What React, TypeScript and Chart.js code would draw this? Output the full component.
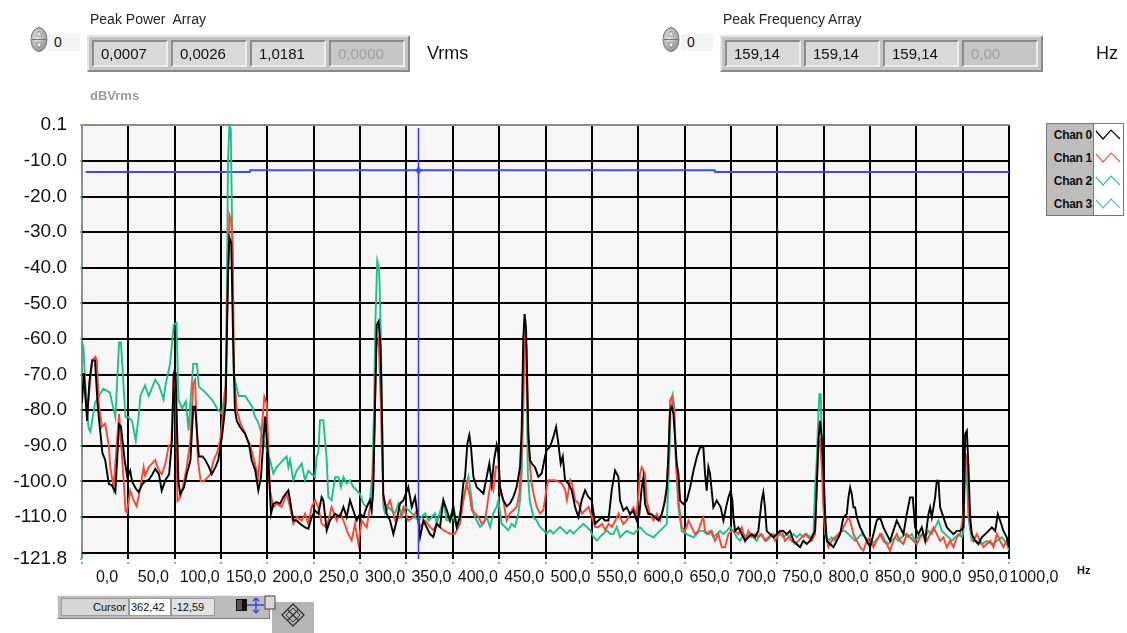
import React, { useEffect, useRef } from 'react';
import { Chart, registerables } from 'chart.js';

Chart.register(...registerables);

const FONT = '"Liberation Sans", Arial, sans-serif';

// ---------- data ----------
const seriesNames = ['Chan 0', 'Chan 1', 'Chan 2', 'Chan 3'];
const lineColors = ['#000000', '#ff4433', '#1cc08c', '#3b4df0'];
const legendColors = ['#000000', '#ff5a4a', '#22c98f', '#55b8f5'];

const peakPowerValues = ['0,0007', '0,0026', '1,0181', '0,0000'];
const peakFrequencyValues = ['159,14', '159,14', '159,14', '0,00'];

const yTickValues = [0.1, -10, -20, -30, -40, -50, -60, -70, -80, -90, -100, -110, -120, -121.8];
const xTickValues = [0, 50, 100, 150, 200, 250, 300, 350, 400, 450, 500, 550, 600, 650, 700, 750, 800, 850, 900, 950, 1000];

const cursorHz = 362.42;
const cursorDb = -12.59;

// [Hz, dBVrms]
const chan0: [number, number][] = [
  [0,-78],[2,-69.6],[4,-77],[5.5,-83],[8,-72],[11,-66],[14,-66],[17,-79],[22,-92],[25,-94],[29,-100.8],[32,-101],[36,-103],[40,-84],[42,-84.5],[46,-94],[49,-99],[52,-97],[54,-100],[58,-102],[61,-103],[65,-100.8],[68,-100],[72,-99.6],[76,-98],[79,-96.5],[83,-98],[86,-102.6],[90,-99.6],[94,-98],[97,-88.5],[99,-69.6],[101,-69.6],[104,-100],[106,-103.6],[110,-101.7],[113,-98],[117,-94],[120,-79],[122,-79],[126,-93],[130,-93],[133,-94],[137,-96],[140,-98],[144,-96],[147,-94],[151,-87.5],[155,-78],[157.5,-42],[159,-31.5],[161,-33],[163,-60],[165,-80],[167,-83],[170,-84.5],[173,-85.7],[176,-86.6],[180,-89.4],[183,-94],[187,-97],[190.2,-102.5],[193,-99],[197.4,-81.8],[201,-94],[203.9,-109.1],[206.4,-106.3],[210,-105.8],[213.6,-106.3],[217.2,-104.4],[222.6,-102.5],[224.4,-105.3],[228,-111],[231.6,-111],[235.2,-111.9],[240.6,-112.9],[244.2,-113.3],[247.8,-110],[251.4,-108.2],[255,-109.1],[258.5,-104.4],[260.3,-105.3],[264,-113.8],[267.5,-111],[273,-109.1],[278.3,-110],[282,-107.2],[285.5,-110],[289.1,-105.3],[292.7,-108.2],[296.3,-111],[299.9,-109.1],[303.5,-110],[307.1,-107.2],[310.7,-105.3],[312.5,-108.2],[314.3,-101.6],[316,-80],[318,-56],[320,-55],[322,-62],[323.5,-80],[325,-103.5],[328.7,-109.1],[332.3,-111],[335.9,-114.8],[339.5,-111],[343,-106.3],[346.7,-105.3],[352,-101.6],[355.7,-107.2],[359.3,-104.4],[362.8,-111],[364.7,-115.7],[368.3,-111],[371.9,-112.9],[375.4,-114.8],[379,-115.6],[382.6,-111.9],[386.2,-112.8],[389.8,-105.3],[393.4,-108],[397,-111],[400.6,-107],[404.2,-112.8],[407.8,-110],[411.4,-100.6],[413.2,-98.7],[415.7,-89.4],[417.8,-87],[419.6,-90.3],[422.2,-98.7],[425.8,-101.6],[429.4,-102.5],[433,-103.4],[436.6,-98.7],[439.4,-95],[442,-100.6],[444.5,-94],[447.3,-89.8],[449.1,-92.2],[450.9,-101.6],[454.5,-105.3],[458.1,-107],[461.7,-106.2],[465.3,-104.4],[468.9,-101.6],[472.5,-96],[474.3,-85.6],[476,-60],[477.5,-53],[479,-57],[481.5,-86.6],[483.3,-94],[485.1,-95],[488.7,-96],[492.3,-98.7],[495.9,-97.8],[499.5,-93],[501.3,-91.2],[504.9,-90.3],[508.5,-87.5],[511.4,-84.7],[513.9,-89.4],[516.4,-95],[518.6,-93],[521.1,-99.7],[524.7,-100.6],[528.3,-102.5],[531.9,-107.2],[535.5,-110],[539,-105.3],[542.7,-102.5],[546.3,-104.4],[549.9,-105.3],[553.5,-111.9],[557.1,-111],[560.7,-110],[564.3,-111],[567.9,-111],[571.4,-102.5],[575,-96.9],[578.6,-98.7],[580.4,-105.4],[584,-108.2],[587.6,-107.3],[591.2,-109.2],[594.8,-108.2],[598.4,-111],[601.3,-109.2],[603.8,-101.7],[605.6,-98.9],[607.4,-106.4],[611,-109.2],[614.6,-109.2],[618.2,-110.1],[621.8,-111],[625.4,-109.2],[629,-105.4],[630.8,-101.7],[632.6,-92.3],[634.4,-80],[636.2,-79],[638,-81],[641.6,-95.1],[643.4,-97.9],[645.2,-105.4],[648.8,-106.4],[652.4,-105.4],[656,-101.7],[659.6,-97],[663.1,-93.3],[666.7,-90.4],[670.3,-90.4],[672.1,-97.9],[673.9,-102.6],[675.7,-96],[677.5,-97.9],[679.3,-102.6],[681.1,-107.3],[684.7,-105.4],[689,-107.3],[691.9,-111],[694.8,-107.3],[697.3,-104.5],[699.8,-102.6],[701.6,-105.4],[702.7,-110.1],[704.5,-113.9],[708.1,-112.9],[711.7,-114.8],[715.3,-116.7],[718.9,-115.7],[722.5,-114.8],[726.1,-115.7],[729.6,-113.9],[733.2,-105.4],[735,-103.1],[736.8,-107.3],[738.6,-113.9],[742.2,-114.8],[745.8,-115.7],[749.4,-114.8],[753,-113.9],[756.6,-113.9],[760.2,-114.8],[763.8,-113.9],[767.4,-116.7],[771,-117.6],[774.6,-118.5],[778.2,-116.7],[781.8,-117.6],[785.4,-116.7],[789,-114.8],[790.8,-113.9],[792.6,-101.7],[794.4,-88.6],[796.2,-83],[798,-87.7],[799.8,-96],[801.6,-109.2],[803.4,-116.7],[807,-117.6],[810.6,-118.5],[814.2,-116.7],[817.8,-114.8],[821.4,-110.1],[825,-109.2],[826.8,-104.5],[828.6,-101.7],[830.4,-103.6],[832.2,-107.3],[834,-107.3],[835.8,-110.1],[839.4,-112.9],[843,-114.8],[846.6,-116.7],[850.2,-118.5],[853.8,-114.8],[857.3,-111],[860.9,-110.1],[864.5,-112.9],[868.1,-114.8],[871.7,-116.7],[875.3,-113.9],[878.9,-111],[882.5,-112.9],[886.1,-114.8],[889.7,-109.2],[893.3,-104.5],[896.2,-104.5],[898.7,-112.9],[902.3,-114.8],[905.9,-112.9],[909.5,-116.7],[913.1,-109.2],[914.9,-107.3],[916.7,-110.1],[918.5,-107.3],[920.3,-104.5],[922.1,-99.8],[923.9,-99.8],[925.7,-107.3],[929.3,-110.1],[932.9,-112.9],[936.5,-113.9],[940.1,-114.8],[943.7,-113.9],[947.3,-113.9],[950.9,-112.9],[952.7,-86.7],[954.5,-85.8],[956.3,-96],[958.1,-110.1],[959.9,-114.8],[963.5,-116.7],[967.1,-117.6],[970.7,-115.7],[974.3,-114.8],[977.9,-113.9],[981.5,-112.9],[985.1,-113.9],[987.9,-109.2],[990.4,-111],[994,-113.9],[997.6,-115.7],[1000,-118.5],
];

const chan1: [number, number][] = [
  [0,-73],[2,-72],[5.5,-81],[8,-74],[11,-66],[14.5,-65],[16,-66],[18,-78],[21.5,-84.7],[25,-83.8],[29,-90],[30.5,-96],[34,-101.7],[40,-81],[41.5,-86.6],[45,-100],[47,-108.3],[48.5,-108.8],[52,-102.6],[56,-105.5],[59,-107],[63,-101.7],[66.5,-96],[68,-98.4],[72,-96],[75.5,-95],[79,-94],[83,-97],[86,-98],[90,-95],[93.5,-90],[96.4,-89.4],[99,-70.5],[101,-73.4],[103,-105.5],[106,-104.5],[110,-100],[113,-96],[117,-88.5],[120,-72.5],[122,-71.5],[125,-94],[128,-100],[131,-100],[135,-99],[138.5,-98],[142,-94],[145.7,-92],[149,-88.5],[153,-79],[155,-73],[157.5,-42],[159,-25.2],[161,-27],[162.5,-33],[164,-70],[167,-80],[171,-83.8],[174.5,-85.6],[178,-88],[181.6,-90],[186.6,-95],[190.2,-98.8],[193.8,-85.6],[196.7,-76.2],[199.2,-78],[202.8,-102.5],[206.4,-107.2],[210,-106.3],[215.4,-107.2],[220.8,-103.5],[224.4,-107.2],[228,-111.9],[231.6,-110],[237,-111],[240.6,-109.1],[244.2,-111.9],[247.8,-107.2],[251.4,-105.3],[255,-107.2],[258.5,-111.9],[264,-112.9],[269.3,-107.2],[274.7,-111],[278.3,-109.1],[282,-111],[287.3,-114.8],[290.9,-116.6],[294.5,-111.9],[298.1,-117.6],[301.7,-111],[307.1,-112.9],[310.7,-107.2],[313.2,-105.3],[315.5,-85],[317.5,-62],[320,-60],[322,-75],[323,-85],[325,-105.3],[328.7,-107.2],[332.3,-105.3],[337.7,-111],[343,-110],[346.7,-107.2],[352,-111],[357.5,-110],[361,-108.2],[364.7,-112.9],[370,-111],[375.4,-112.8],[379,-113.7],[382.6,-111.9],[389.8,-113.7],[397,-114.7],[402.4,-114.7],[407.8,-111.9],[411.4,-105.3],[415,-100.6],[416.8,-102.5],[418.6,-104.4],[420.4,-108.1],[424,-109],[427.6,-110],[431.2,-111.9],[434.8,-111],[438.4,-104.4],[440.9,-100.6],[443.7,-102.5],[446.6,-95.9],[449.1,-95.9],[451.6,-103.4],[454.5,-105.3],[458.1,-111],[461.7,-109],[465.3,-108.1],[468.9,-107.2],[471.8,-103.4],[474.3,-92.2],[476,-80],[477.5,-60],[479.5,-62],[481.5,-88.4],[483.3,-95.9],[485.1,-100.6],[487,-103.4],[490.5,-107.2],[494.1,-109],[497.7,-108.1],[501.3,-101.6],[503.1,-99.7],[506.7,-99.7],[510.3,-99.7],[514,-100.1],[517.7,-100.6],[521.3,-102.5],[523.1,-105.3],[526.7,-99.7],[528.5,-100.6],[532.1,-105.3],[535.7,-106.2],[539.3,-109],[542.9,-108.1],[546.5,-107.2],[550.1,-110],[553.7,-112.8],[557.3,-112.8],[560.9,-111.9],[564.5,-113.7],[568.1,-111.9],[571.7,-112.8],[575.3,-111],[578.9,-109],[580.4,-110.1],[584,-112],[587.6,-111],[591.2,-109.2],[594.8,-107.3],[598.4,-109.2],[602,-97.9],[603.8,-96],[607.4,-97.9],[609.2,-105.4],[612.8,-109.2],[616.4,-111],[620,-109.2],[623.6,-111],[627.2,-107.3],[630.8,-101.7],[632.6,-93.3],[634.4,-77.3],[636.2,-76.4],[638.7,-80.1],[640.8,-95.1],[643.4,-105.4],[647,-112.9],[650.6,-113.9],[654.2,-111],[657.7,-112.9],[661.3,-114.8],[664.9,-113.9],[668.5,-111],[670.3,-110.1],[672.1,-113.9],[675.7,-114.8],[679.3,-113.9],[682.9,-116.7],[686.5,-114.8],[690.1,-118.5],[693.7,-118.5],[697.3,-114.8],[700.9,-113.9],[704.5,-113.9],[708.1,-114.8],[711.7,-112.9],[715.3,-116.7],[718.9,-113.9],[722.5,-115.7],[726.1,-114.8],[729.6,-115.7],[733.2,-114.8],[736.8,-116.7],[740.4,-115.7],[744,-114.8],[747.6,-116.7],[751.2,-114.8],[754.8,-113.9],[758.4,-116.7],[762,-115.7],[765.6,-116.7],[769.2,-117.6],[772.8,-116.7],[776.4,-115.7],[780,-114.8],[783.6,-115.7],[787.2,-116.7],[790.8,-114.8],[792.6,-101.7],[794.4,-89.5],[796.2,-88.6],[798,-96],[799.8,-107.3],[801.6,-113.9],[805.2,-118.5],[808.8,-116.7],[812.4,-115.7],[816,-114.8],[819.6,-113.9],[823.2,-112],[826.8,-110.1],[828.6,-111],[832.2,-114.8],[835.8,-116.7],[839.4,-118.5],[843,-119.5],[846.6,-116.7],[850.2,-115.7],[853.8,-118.5],[857.3,-116.7],[860.9,-114.8],[864.5,-116.7],[868.1,-117.6],[871.7,-119.5],[875.3,-116.7],[878.9,-114.8],[882.5,-116.7],[886.1,-117.6],[889.7,-114.8],[893.3,-115.7],[896.9,-116.7],[900.5,-117.6],[904.1,-115.7],[907.7,-114.8],[911.3,-116.7],[914.9,-114.8],[918.5,-112.9],[922.1,-114.8],[925.7,-116.7],[929.3,-115.7],[932.9,-118.5],[936.5,-116.7],[940.1,-118.5],[943.7,-115.7],[947.3,-114.8],[950.9,-109.2],[952.7,-92.3],[954.5,-93.3],[956.3,-107.3],[958.1,-112.9],[961.7,-116.7],[965.3,-114.8],[968.9,-116.7],[972.5,-118.5],[976.1,-117.6],[979.7,-116.7],[983.3,-118.5],[986.9,-114.8],[990.4,-116.7],[994,-118.5],[997.6,-116.7],[1000,-118.5],
];

const chan2: [number, number][] = [
  [0,-61],[1.5,-62],[3,-70],[7,-85],[9,-86],[14,-78],[18,-76],[23,-74],[30,-75],[36,-82],[40,-61],[42,-61],[45,-74],[47,-82],[50,-82],[54,-83],[58,-88.5],[61,-82],[63,-76],[68,-73],[72,-76],[79,-71.5],[83,-73],[88,-77],[90,-73],[95,-67],[99,-56],[102,-55.5],[104,-77],[108,-79.5],[112,-77.5],[115,-85.7],[117,-77.5],[120,-67],[124,-67],[126,-73.4],[133,-75],[140,-77],[147,-80],[151,-81],[155,-73],[156.5,-40],[157.5,-10],[159,0.1],[160.5,-1],[162,-30],[163.5,-70],[169,-76],[176,-76],[183.5,-79],[186.6,-81.8],[190.2,-83.5],[193.8,-86.5],[202.8,-94],[206.4,-97.8],[210,-96],[213.6,-95],[217.2,-94],[220.8,-93],[222.6,-96],[224.4,-94],[228,-99.7],[231.6,-97],[237,-95],[240.6,-99.7],[244.2,-97],[247.8,-98],[251.4,-98.8],[253.1,-93],[255,-92],[256.7,-82.8],[260.3,-82.8],[262.1,-88.4],[264,-94],[265.7,-104.4],[269.3,-105.3],[273,-98.8],[276.5,-98.8],[279.4,-101.6],[282,-98.8],[285.5,-100.6],[289.1,-99.7],[292.7,-101.6],[296.3,-102.5],[299.9,-103.5],[303.5,-106.3],[307.1,-107.2],[310.7,-105.3],[313.2,-98],[315,-80],[316.5,-55],[318.5,-38],[320.5,-40],[322,-55],[323.3,-74.3],[325,-107],[327,-109],[330.5,-107.2],[334,-108.2],[337.7,-109],[341.3,-106.3],[344.9,-110],[348.5,-107.2],[352,-108],[355.7,-109],[359.3,-110],[362.8,-111],[366.5,-110],[370,-109],[373.7,-111],[377.3,-110],[380.8,-109],[382.6,-111.9],[389.8,-105.3],[393.4,-110.9],[397,-110.9],[400.6,-110],[404.2,-112.8],[407.8,-109],[411.4,-105.3],[415,-100.6],[416.8,-98.7],[418.6,-101.6],[420.4,-105.3],[422.2,-109],[425.8,-111],[429.4,-112.8],[433,-111.9],[436.6,-110],[440.2,-112.8],[443.7,-109],[447.3,-107.2],[449.1,-105.3],[452.7,-111.9],[456.3,-112.8],[459.9,-113.7],[463.5,-111.9],[467.1,-112.8],[470.7,-109],[472.5,-105.3],[474.3,-98],[476,-70],[477.5,-53],[479,-60],[481,-98],[483,-105.3],[486.9,-110],[490.5,-111],[494.1,-112.8],[497.7,-113.7],[501.3,-114.7],[504.9,-113.7],[508.5,-114.7],[512,-113.7],[515.7,-112.8],[519.3,-113.7],[522.9,-114.7],[526.5,-113.7],[530.1,-114.7],[533.7,-113.7],[537.3,-112.8],[540.9,-111.9],[544.5,-112.8],[548.1,-113.7],[551.7,-115.6],[555.3,-116.6],[558.8,-115.6],[562.4,-114.7],[566,-113.7],[569.6,-114.7],[573.2,-114.8],[576.8,-112.8],[580.4,-115.7],[587.6,-113.9],[594.8,-114.8],[602,-112.9],[609.2,-114.8],[616.4,-115.7],[623.6,-113.9],[630.8,-112],[633.7,-92.3],[635.1,-77.3],[637.2,-75.5],[639,-79.2],[640.8,-94.2],[643.4,-107.3],[647,-113.9],[652.4,-114.8],[659.6,-115.7],[666.7,-113.9],[670.3,-113.9],[673.9,-114.8],[677.5,-113.9],[681.1,-115.7],[684.7,-114.8],[688.3,-113.9],[691.9,-114.8],[695.5,-113.9],[699.1,-112.9],[702.7,-113.9],[706.3,-115.7],[709.9,-116.7],[713.5,-114.8],[717.1,-115.7],[720.7,-114.8],[724.3,-115.7],[727.9,-116.7],[731.4,-114.8],[735,-115.7],[738.6,-116.7],[742.2,-115.7],[745.8,-114.8],[749.4,-115.7],[753,-114.8],[756.6,-115.7],[760.2,-114.8],[763.8,-115.7],[767.4,-114.8],[771,-115.7],[774.6,-114.8],[778.2,-115.7],[781.8,-114.8],[785.4,-115.7],[789,-114.8],[790.8,-101.7],[792.6,-94.2],[794.4,-81],[795.5,-75.5],[796.9,-75.5],[798,-88.6],[799.8,-105.4],[801.6,-114.8],[805.2,-116.7],[808.8,-115.7],[812.4,-116.7],[816,-114.8],[819.6,-113.9],[823.2,-113.9],[826.8,-114.8],[830.4,-115.7],[834,-116.7],[837.6,-115.7],[841.2,-114.8],[844.8,-115.7],[848.4,-116.7],[852,-117.6],[855.6,-116.7],[859.2,-115.7],[862.8,-114.8],[866.4,-116.7],[870,-117.6],[873.5,-116.7],[877.1,-115.7],[880.7,-116.7],[884.3,-115.7],[887.9,-114.8],[891.5,-115.7],[895.1,-114.8],[898.7,-116.7],[902.3,-115.7],[905.9,-114.8],[909.5,-115.7],[913.1,-113.9],[916.7,-114.8],[920.3,-112.9],[923.9,-111],[927.5,-113.9],[931.1,-114.8],[934.7,-115.7],[938.3,-116.7],[941.9,-115.7],[945.5,-114.8],[949.1,-115.7],[950.9,-113.9],[952.7,-96],[954.5,-97.9],[956.3,-110.1],[959.9,-116.7],[965.3,-116.7],[970.7,-117.6],[976.1,-116.7],[981.5,-117.6],[986.9,-116.7],[992.3,-115.7],[997.6,-117.6],[1000,-119.5],
];

const chan3: [number, number][] = [
  [4,-13.1],[181,-13.1],[181.5,-12.59],[682.5,-12.59],[683,-13.1],[1000,-13.1],
];

const allSeries = [chan0, chan1, chan2, chan3];

// ---------- helpers ----------
const fmtX = (v: number) => v.toFixed(1).replace('.', ',');
const fmtY = (v: number) => (v === -120 ? '' : v.toFixed(1));

const bgPlugin = {
  id: 'plotBg',
  beforeDraw(chart: any) {
    const { ctx, chartArea: a } = chart;
    ctx.save();
    ctx.fillStyle = '#f6f6f6';
    ctx.fillRect(a.left, a.top - 1, a.right - a.left, a.bottom - a.top + 1);
    ctx.restore();
  },
  afterDraw(chart: any) {
    const { ctx, chartArea: a, scales } = chart;
    ctx.save();
    ctx.fillStyle = '#55dd55';
    xTickValues.forEach((v) => {
      const px = scales.x.getPixelForValue(v);
      ctx.fillRect(Math.round(px) - 1, a.bottom + 3, 2, 2);
    });
    yTickValues.forEach((v) => {
      if (v === -120) return;
      const py = scales.y.getPixelForValue(v);
      ctx.fillRect(a.left - 2, Math.round(py) - 1, 2, 2);
    });
    ctx.restore();
  },
};

const cursorPlugin = {
  id: 'cursor',
  afterDatasetsDraw(chart: any) {
    const { ctx, chartArea: a, scales } = chart;
    const x = Math.round(scales.x.getPixelForValue(cursorHz)) + 0.5;
    const y = Math.round(scales.y.getPixelForValue(cursorDb)) + 0.5;
    ctx.save();
    ctx.strokeStyle = '#3346f0';
    ctx.lineWidth = 1.6;
    ctx.beginPath();
    ctx.moveTo(x, a.top + 3);
    ctx.lineTo(x, a.bottom);
    ctx.stroke();
    ctx.beginPath();
    ctx.moveTo(x - 4, y);
    ctx.lineTo(x + 4, y);
    ctx.moveTo(x, y - 4);
    ctx.lineTo(x, y + 4);
    ctx.stroke();
    ctx.fillStyle = '#3346f0';
    ctx.fillRect(x - 2, y - 2, 4, 4);
    ctx.restore();
  },
};

// ---------- small UI pieces ----------
const Spinner = ({ left, top }: { left: number; top: number }) => (
  <svg style={{ position: 'absolute', left, top }} width={18} height={25}>
    <defs>
      <radialGradient id={`sg${left}`} cx="40%" cy="40%" r="70%">
        <stop offset="0%" stopColor="#e8e8e8" />
        <stop offset="100%" stopColor="#8a8a8a" />
      </radialGradient>
    </defs>
    <ellipse cx={9} cy={12.5} rx={8} ry={12} fill={`url(#sg${left})`} stroke="#777" />
    <line x1={2} y1={12.5} x2={16} y2={12.5} stroke="#777" />
    <path d="M9 4 L12 9 L6 9 Z" fill="#eee" stroke="#666" strokeWidth={0.6} />
    <path d="M9 21 L12 16 L6 16 Z" fill="#eee" stroke="#666" strokeWidth={0.6} />
  </svg>
);

const IndexBox = ({ left, top }: { left: number; top: number }) => (
  <div
    style={{
      position: 'absolute', left, top, width: 32, height: 17, background: '#f4f4f4',
      fontFamily: FONT, fontSize: 14, lineHeight: '17px', paddingLeft: 6, boxSizing: 'border-box', color: '#111',
    }}
  >
    0
  </div>
);

const ArrayFrame = ({ left, label, values }: { left: number; label: string; values: string[] }) => (
  <>
    <div style={{ position: 'absolute', left: left + 3, top: 11, fontFamily: FONT, fontSize: 14, color: '#222', whiteSpace: 'pre' }}>
      {label}
    </div>
    <div
      style={{
        position: 'absolute', left, top: 35, width: 323, height: 37, boxSizing: 'border-box',
        background: '#c4c4c4', borderStyle: 'solid', borderWidth: 2, borderColor: '#e6e6e6 #8a8a8a #8a8a8a #e6e6e6',
      }}
    >
      {values.map((v, i) => (
        <div
          key={i}
          style={{
            position: 'absolute', left: 3 + i * 79, top: 3, width: 76, height: 27, boxSizing: 'border-box',
            background: i === 3 ? '#c6c6c6' : '#d9d9d9', borderStyle: 'solid', borderWidth: 2,
            borderColor: '#8c8c8c #ececec #ececec #8c8c8c', fontFamily: FONT, fontSize: 15,
            lineHeight: '23px', paddingLeft: 7, color: i === 3 ? '#a0a0a0' : '#111',
          }}
        >
          {v}
        </div>
      ))}
    </div>
  </>
);

const Legend = () => (
  <div
    style={{
      position: 'absolute', left: 1046, top: 123, width: 78, height: 93, boxSizing: 'border-box',
      border: '1px solid #777', background: '#fff',
    }}
  >
    <div style={{ position: 'absolute', left: 0, top: 0, width: 46, height: 91, background: '#bdbdbd', borderRight: '1px solid #777' }} />
    {seriesNames.map((n, i) => (
      <div
        key={n}
        style={{
          position: 'absolute', left: 0, top: 3 + i * 23, width: 46, textAlign: 'right', paddingRight: 1,
          boxSizing: 'border-box', fontFamily: FONT, fontSize: 12, fontWeight: 'bold', lineHeight: '16px', color: '#111',
          letterSpacing: -0.3,
        }}
      >
        {n}
      </div>
    ))}
    <svg style={{ position: 'absolute', left: 47, top: 0 }} width={29} height={91}>
      {legendColors.map((c, i) => {
        const cy = 11 + i * 23;
        return (
          <polyline
            key={i}
            points={`2,${cy - 4} 9,${cy + 4} 17,${cy - 5} 26,${cy + 4}`}
            fill="none"
            stroke={c}
            strokeWidth={1.2}
          />
        );
      })}
    </svg>
  </div>
);

const CursorPanel = () => (
  <>
    <div
      style={{
        position: 'absolute', left: 57, top: 595, width: 213, height: 24, boxSizing: 'border-box',
        background: '#bcbcbc', borderStyle: 'solid', borderWidth: 1, borderColor: '#eee #777 #777 #eee',
      }}
    >
      <div
        style={{
          position: 'absolute', left: 3, top: 2, width: 68, height: 18, background: '#d6d6d6', boxSizing: 'border-box',
          border: '1px solid #999', fontFamily: FONT, fontSize: 11, lineHeight: '16px', textAlign: 'right', paddingRight: 2, color: '#111',
        }}
      >
        Cursor
      </div>
      <div
        style={{
          position: 'absolute', left: 71, top: 2, width: 42, height: 18, background: '#fff', boxSizing: 'border-box',
          border: '1px solid #999', fontFamily: FONT, fontSize: 11, lineHeight: '16px', paddingLeft: 1, color: '#111',
        }}
      >
        362,42
      </div>
      <div
        style={{
          position: 'absolute', left: 113, top: 2, width: 44, height: 18, background: '#e2e2e2', boxSizing: 'border-box',
          border: '1px solid #999', fontFamily: FONT, fontSize: 11, lineHeight: '16px', paddingLeft: 1, color: '#111',
        }}
      >
        -12,59
      </div>
    </div>
    <svg style={{ position: 'absolute', left: 234, top: 595 }} width={82} height={38}>
      <rect x={2} y={4} width={11} height={12} fill="#111" />
      <rect x={3} y={5} width={5} height={10} fill="#555" />
      <line x1={13} y1={10} x2={30} y2={10} stroke="#2a3df0" strokeWidth={1.4} />
      <line x1={22} y1={3} x2={22} y2={18} stroke="#2a3df0" strokeWidth={1.4} />
      <path d="M19 6 L22 3 L25 6 M19 15 L22 18 L25 15" stroke="#2a3df0" fill="none" strokeWidth={1.2} />
      <rect x={38} y={7} width={42} height={31} fill="#b4b4b4" />
      <rect x={31} y={1} width={10} height={13} fill="#d8d8d8" stroke="#444" strokeWidth={1} />
      <path d="M59 9 L70 20 L59 31 L48 20 Z M53.5 14.5 L64.5 25.5 M64.5 14.5 L53.5 25.5" fill="none" stroke="#333" strokeWidth={1.3} />
      <path d="M59 13 L66 20 L59 27 L52 20 Z" fill="none" stroke="#333" strokeWidth={1} />
    </svg>
  </>
);

// ---------- main ----------
export default function App() {
  const canvasRef = useRef<HTMLCanvasElement | null>(null);

  useEffect(() => {
    const canvas = canvasRef.current;
    if (!canvas) return;
    const chart = new Chart(canvas, {
      type: 'line',
      data: {
        datasets: allSeries.map((pts, i) => ({
          label: seriesNames[i],
          data: pts.map(([x, y]) => ({ x, y })),
          borderColor: lineColors[i],
          backgroundColor: lineColors[i],
          borderWidth: 1.9,
          pointRadius: 0,
          fill: false,
          tension: 0,
        })),
      },
      options: {
        responsive: false,
        animation: false,
        events: [],
        layout: { padding: { top: 125, right: 118, left: 0, bottom: 0 } },
        plugins: {
          legend: { display: false },
          tooltip: { enabled: false },
          title: { display: false },
        },
        scales: {
          x: {
            type: 'linear',
            min: 0,
            max: 1000,
            afterFit: (s: any) => { s.height = 74; },
            afterBuildTicks: (s: any) => { s.ticks = xTickValues.map((v) => ({ value: v })); },
            ticks: {
              autoSkip: false,
              maxRotation: 0,
              minRotation: 0,
              labelOffset: 25,
              padding: 9,
              color: '#111',
              font: { family: FONT, size: 16 },
              callback: (v: any) => fmtX(Number(v)),
            },
            grid: {
              color: (c: any) => (c.tick && c.tick.value === 0 ? '#8c8c8c' : '#000'),
              lineWidth: 2,
              drawTicks: false,
            },
            border: { display: false },
          },
          y: {
            type: 'linear',
            min: -121.8,
            max: 0.1,
            afterFit: (s: any) => { s.width = 82; },
            afterBuildTicks: (s: any) => { s.ticks = yTickValues.map((v) => ({ value: v })); },
            ticks: {
              autoSkip: false,
              padding: 15,
              color: '#111',
              font: { family: FONT, size: 19 },
              callback: (v: any) => fmtY(Number(v)),
            },
            grid: {
              color: (c: any) => {
                const v = c.tick ? c.tick.value : 0;
                if (v === 0.1) return '#8c8c8c';
                if (v === -121.8) return 'rgba(0,0,0,0)';
                return '#000';
              },
              lineWidth: 2,
              drawTicks: false,
            },
            border: { display: false },
          },
        },
      } as any,
      plugins: [bgPlugin, cursorPlugin],
    });
    return () => chart.destroy();
  }, []);

  return (
    <div style={{ position: 'absolute', left: 0, top: 0, width: 1127, height: 633, background: '#fff', overflow: 'hidden' }}>
      <canvas ref={canvasRef} width={1127} height={633} style={{ position: 'absolute', left: 0, top: 0, width: 1127, height: 633 }} />

      <Spinner left={30} top={27} />
      <IndexBox left={48} top={34} />
      <ArrayFrame left={87} label={'Peak Power  Array'} values={peakPowerValues} />
      <div style={{ position: 'absolute', left: 427, top: 43, fontFamily: FONT, fontSize: 18, color: '#111' }}>Vrms</div>

      <Spinner left={662} top={27} />
      <IndexBox left={681} top={34} />
      <ArrayFrame left={720} label={'Peak Frequency Array'} values={peakFrequencyValues} />
      <div style={{ position: 'absolute', left: 1096, top: 43, fontFamily: FONT, fontSize: 18, color: '#111' }}>Hz</div>

      <div style={{ position: 'absolute', left: 90, top: 88, fontFamily: FONT, fontSize: 13, fontWeight: 'bold', color: '#9a9a9a' }}>dBVrms</div>
      <div style={{ position: 'absolute', left: 1077, top: 564, fontFamily: FONT, fontSize: 11, fontWeight: 'bold', color: '#111' }}>Hz</div>

      <Legend />
      <CursorPanel />
    </div>
  );
}
